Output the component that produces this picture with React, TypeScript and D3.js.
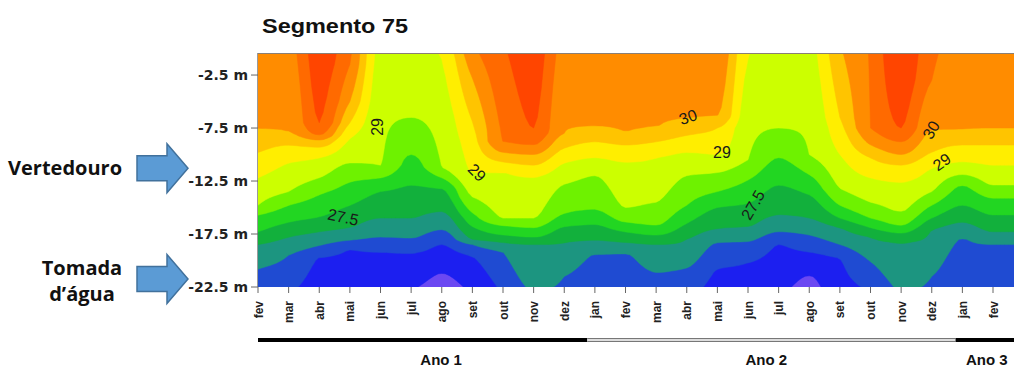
import React, { useMemo } from 'react';
import * as d3 from 'd3';

// ---------- data ----------
const months = ["fev","mar","abr","mai","jun","jul","ago","set","out","nov","dez","jan","fev","mar","abr","mai","jun","jul","ago","set","out","nov","dez","jan","fev"];
const depthTicks = [-2.5, -7.5, -12.5, -17.5, -22.5];

// temperature levels (°C) and band colours (band above each level)
const levels = [25.5, 26, 26.5, 27, 27.5, 28, 28.5, 29, 29.5, 30, 30.5, 31];
const bandColors = ["#6b48f2", "#1c1ff0", "#1f4bd2", "#1c9580", "#12b03c", "#22d622", "#6ef200", "#ccff00", "#ffee00", "#ffc400", "#ff8c00", "#ff6a00", "#ff4500"];

// one column per month (t = 0 .. 25 from fev Ano 1); temperature at surface and at 22.5 m
const surfaceT = [30.35,30.35,31.3,30.6,28.85,28.75,29.1,30.4,30.95,31.3,30.35,30.35,30.35,30.35,30.35,30.4,29.05,28.75,28.85,29.95,30.55,31.5,30.6,30.35,30.35,30.35];
const bottomT = [26.3,26.1,25.8,25.75,25.7,25.55,25.35,25.6,26.1,26.55,26.45,26.15,26.1,26.35,26.2,25.85,25.75,25.6,25.4,25.8,26.1,26.55,26.45,26.05,26.05,26.05];
// depth (m) of each isotherm per month, null where absent
const iso31 = [null,null,7.0,null,null,null,null,null,null,7.5,null,null,null,null,null,null,null,null,null,null,null,7.5,null,null,null,null];
const iso30_5 = [null,null,8.2,1.5,null,null,null,null,8.8,9.1,null,null,null,null,null,null,null,null,null,null,7.5,8.8,3.0,null,null,null];
const iso30 = [7.6,7.9,8.6,5.0,null,null,null,2.8,9.8,10.0,8.0,7.4,7.8,7.4,6.6,6.4,null,null,null,null,9.1,10.0,7.7,7.7,7.5,7.5];
const iso29_5 = [9.8,9.1,9.3,7.0,null,null,null,6.9,10.7,11.0,9.4,8.8,9.1,8.8,8.2,7.5,null,null,null,6.5,10.3,11.0,9.8,9.1,9.1,9.1];
const iso29 = [12.2,10.8,10.3,8.5,null,null,1.0,11.7,11.7,12.1,10.8,10.3,10.7,10.3,9.8,10.0,1.0,null,null,10.0,12.2,12.6,11.3,10.7,11.0,11.0];
const iso28_5 = [14.8,13.5,12.2,10.8,11.0,6.5,11.2,14.0,16.0,16.0,12.8,12.0,15.0,14.5,12.0,11.7,10.5,7.5,10.0,13.2,14.5,15.4,13.5,11.9,12.9,12.9];
const iso28 = [15.7,14.8,13.8,12.6,12.2,10.0,12.2,15.5,16.7,16.9,15.6,15.2,16.4,16.7,14.8,13.5,12.4,10.3,11.9,14.8,16.0,16.7,14.8,12.9,14.1,14.1];
const iso27_5 = [17.3,16.4,15.9,14.8,13.5,12.9,13.2,16.8,17.6,17.8,16.8,16.6,17.3,17.6,16.5,15.0,14.6,12.9,13.8,16.0,16.9,17.4,16.0,14.8,15.7,15.7];
const iso27 = [18.5,17.8,17.3,16.9,16.0,16.0,15.4,18.0,18.3,18.5,18.3,18.1,18.3,18.5,18.0,17.0,16.8,15.7,16.0,16.9,17.8,18.3,17.1,16.4,17.3,17.3];
const iso26_5 = [20.8,19.5,18.6,18.1,17.8,17.9,17.1,18.5,19.2,null,21.5,19.4,19.3,21.1,20.7,18.3,18.2,17.3,17.6,18.5,20.1,null,21.5,17.9,18.5,18.5];
const iso26 = [null,null,19.7,19.0,19.2,19.3,18.5,19.6,null,null,null,null,null,null,null,20.8,20.2,18.5,19.2,19.8,null,null,null,null,null,null];
const iso25_5 = [null,null,null,null,null,null,21.2,null,null,null,null,null,null,null,null,null,null,null,21.4,null,null,null,null,null,null,null];

const isoLevels = [31, 30.5, 30, 29.5, 29, 28.5, 28, 27.5, 27, 26.5, 26, 25.5];
const isoDepths = [iso31, iso30_5, iso30, iso29_5, iso29, iso28_5, iso28, iso27_5, iso27, iso26_5, iso26, iso25_5];

// contour labels
const labelText = ["29", "29", "27.5", "30", "29", "27.5", "30", "29"];
const labelT = [3.89, 7.15, 2.78, 14.04, 15.15, 16.16, 21.98, 22.33];
const labelD = [7.4, 11.7, 15.9, 6.46, 9.76, 14.76, 7.69, 10.7];
const labelAngle = [-90, 45, 12, -20, 0, -60, -60, -35];

// year bar
const yearLabels = ["Ano 1", "Ano 2", "Ano 3"];
const yearStarts = [0, 10.75, 22.78];
const yearEnds = [10.75, 22.78, 25];
const yearLabelT = [5.98, 16.6, 23.8];

// side annotations
const annotLines = [["Vertedouro"], ["Tomada", "d\u2019água"]];
const annotDepth = [-11.3, -21.75];

// ---------- layout ----------
const W = 1014, H = 367;
const L = 258, R = 1014, T = 53, B = 287;
const MAXD = 22.5;
const SX = 8;       // sub-steps per month
const DSTEP = 0.25; // m

function pchipRow(ys: number[]) {
  const n = ys.length;
  const d = ys.slice(1).map((v, i) => v - ys[i]);
  const m = ys.map((_, i) => {
    if (i === 0) return d[0];
    if (i === n - 1) return d[n - 2];
    const a = d[i - 1], b = d[i];
    if (a * b <= 0) return 0;
    return (2 * a * b) / (a + b);
  });
  return (t: number) => {
    let k = Math.floor(t);
    if (k >= n - 1) k = n - 2;
    if (k < 0) k = 0;
    const s = t - k;
    const s2 = s * s, s3 = s2 * s;
    return (2 * s3 - 3 * s2 + 1) * ys[k] + (s3 - 2 * s2 + s) * m[k] + (-2 * s3 + 3 * s2) * ys[k + 1] + (s3 - s2) * m[k + 1];
  };
}

export default function App() {
  const x = d3.scaleLinear().domain([0, 24]).range([L, 993]);
  const y = d3.scaleLinear().domain([-0.42, -22.5]).range([T, B]);

  const contours = useMemo(() => {
    const nCols = surfaceT.length;
    const ny = Math.round(MAXD / DSTEP) + 1;
    const nx = (nCols - 1) * SX + 1;
    const colVals: number[][] = [];
    for (let j = 0; j < nCols; j++) {
      const knots: [number, number][] = [[0, surfaceT[j]]];
      isoLevels.forEach((lv, k) => {
        const dd = isoDepths[k][j];
        if (dd != null) knots.push([dd, lv]);
      });
      knots.push([MAXD, bottomT[j]]);
      knots.sort((a, b) => a[0] - b[0]);
      const col: number[] = [];
      for (let r = 0; r < ny; r++) {
        const dep = r * DSTEP;
        let v = knots[knots.length - 1][1];
        for (let q = 0; q < knots.length - 1; q++) {
          const [d0, v0] = knots[q], [d1, v1] = knots[q + 1];
          if (dep >= d0 && dep <= d1) {
            v = d1 === d0 ? v0 : v0 + (v1 - v0) * (dep - d0) / (d1 - d0);
            break;
          }
        }
        col.push(v);
      }
      colVals.push(col);
    }
    const values = new Float64Array(nx * ny);
    for (let r = 0; r < ny; r++) {
      const f = pchipRow(colVals.map((c) => c[r]));
      for (let c = 0; c < nx; c++) values[r * nx + c] = f(c / SX);
    }
    const gen = d3.contours().size([nx, ny]).thresholds(levels);
    return gen(Array.from(values));
  }, []);

  const proj = d3.geoTransform({
    point(px: number, py: number) {
      // @ts-ignore
      this.stream.point(x((px - 0.5) / SX), y(-(py - 0.5) * DSTEP));
    },
  });
  const path = d3.geoPath(proj as any);

  const arrow = (ty: number) => {
    const tx = 188, bx = 137, hx = 167, bh = 12.5, hh = 24.5;
    return `M${bx},${ty - bh}L${hx},${ty - bh}L${hx},${ty - hh}L${tx},${ty}L${hx},${ty + hh}L${hx},${ty + bh}L${bx},${ty + bh}Z`;
  };

  return (
    <svg width={W} height={H} style={{ position: 'absolute', left: 0, top: 0, display: 'block', background: '#fff' }}>
      <defs>
        <clipPath id="plotClip">
          <rect x={L} y={T} width={R - L} height={B - T} />
        </clipPath>
      </defs>
      <text x={262} y={33} fontFamily="Liberation Sans, Arial" fontWeight="bold" fontSize={21} textLength={146} lengthAdjust="spacingAndGlyphs" fill="#111">Segmento 75</text>

      <g clipPath="url(#plotClip)">
        <rect x={L} y={T} width={R - L} height={B - T} fill={bandColors[0]} />
        {contours.map((c, i) => (
          <path key={i} d={path(c as any) || ''} fill={bandColors[i + 1]} stroke={bandColors[i + 1]} strokeWidth={0.5} />
        ))}
        {labelText.map((s, i) => (
          <text key={i} transform={`translate(${x(labelT[i])},${y(-labelD[i])}) rotate(${labelAngle[i]})`}
            textAnchor="middle" dy="0.35em" fontFamily="Liberation Sans, Arial" fontSize={16} fill="#1a1a1a">{s}</text>
        ))}
      </g>
      <line x1={L} x2={R} y1={T + 0.5} y2={T + 0.5} stroke="#8a7f75" strokeWidth={1} />
      <line x1={L - 0.5} x2={L - 0.5} y1={T} y2={B} stroke="#9a9a9a" strokeWidth={1} />

      {depthTicks.map((d) => (
        <g key={d}>
          <line x1={251} x2={L} y1={y(d)} y2={y(d)} stroke="#666" />
          <text x={248} y={y(d) + 5} textAnchor="end" fontFamily="DejaVu Sans" fontWeight="bold" fontSize={14} fill="#222">{`${d} m`}</text>
        </g>
      ))}

      {months.map((m, i) => (
        <g key={i}>
          <line x1={x(i)} x2={x(i)} y1={B} y2={B + 6} stroke="#666" />
          <text transform={`translate(${x(i) + 4.5},301) rotate(-90)`} textAnchor="end" fontFamily="Liberation Sans, Arial" fontWeight="bold" fontSize={12} fill="#222">{m}</text>
        </g>
      ))}

      {yearLabels.map((lab, i) => {
        const x0 = x(yearStarts[i]), x1 = Math.min(x(yearEnds[i]), R);
        const solid = i !== 1;
        return (
          <g key={lab}>
            {solid ? (
              <line x1={x0} x2={x1} y1={340} y2={340} stroke="#000" strokeWidth={4} />
            ) : (
              <g>
                <line x1={x0} x2={x1} y1={340} y2={340} stroke="#777" strokeWidth={4} />
                <line x1={x0} x2={x1} y1={340} y2={340} stroke="#fff" strokeWidth={1.6} />
              </g>
            )}
            <text x={x(yearLabelT[i])} y={365} textAnchor="middle" fontFamily="Liberation Sans, Arial" fontWeight="bold" fontSize={15} fill="#111">{lab}</text>
          </g>
        );
      })}

      {annotLines.map((lines, i) => {
        const ty = y(annotDepth[i]);
        return (
          <g key={i}>
            <path d={arrow(ty)} fill="#5b9bd5" stroke="#41719c" strokeWidth={1.5} />
            {lines.length === 1 ? (
              <text x={8} y={ty + 7} fontFamily="Open Sans" fontWeight={700} fontSize={20} fill="#111">{lines[0]}</text>
            ) : (
              lines.map((s, k) => (
                <text key={k} x={82} y={ty - 4 + k * 26} textAnchor="middle" fontFamily="Open Sans" fontWeight={700} fontSize={20} fill="#111">{s}</text>
              ))
            )}
          </g>
        );
      })}
    </svg>
  );
}
